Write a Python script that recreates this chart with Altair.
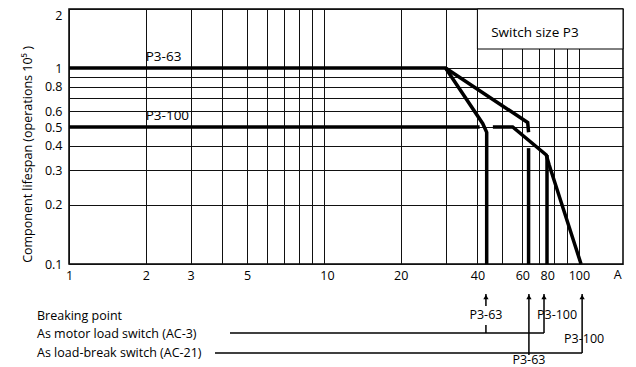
import altair as alt
import pandas as pd

FONT = "Open Sans"

# ---- axis ticks / grid -------------------------------------------------
x_grid = [1, 2, 3, 4, 5, 6, 7, 8, 9, 10, 20, 30, 40, 50, 60, 70, 80, 90, 100]
x_tick_labels = ["1", "2", "3", "5", "10", "20", "40", "60", "80", "100"]
y_grid = [0.1, 0.2, 0.3, 0.4, 0.5, 0.6, 0.7, 0.8, 0.9, 1, 2]
y_tick_labels = ["0.1", "0.2", "0.3", "0.4", "0.5", "0.6", "0.8", "1", "2"]

# ---- curves (current in A, lifespan in 10^5 operations) ----------------
p363_ac3_x = [1, 30, 42, 43.5, 43.5]
p363_ac3_y = [1, 1, 0.52, 0.47, 0.1]
p363_ac21a_x = [30, 63, 63.5]
p363_ac21a_y = [1, 0.527, 0.47]
p363_ac21b_x = [63.5, 63.5]
p363_ac21b_y = [0.39, 0.1]
p3100_a_x = [1, 40.8]
p3100_a_y = [0.5, 0.5]
p3100_b_x = [46, 55, 74.5, 76.5, 102]
p3100_b_y = [0.5, 0.5, 0.36, 0.32, 0.1]
p3100_v_x = [75, 75]
p3100_v_y = [0.36, 0.1]

curve_labels = ["P3-63", "P3-100"]
curve_label_x = [2, 2]
curve_label_y = [1, 0.5]

box_text = "Switch size P3"

# ---- breaking points ---------------------------------------------------
arrow_labels = ["P3-63", "P3-100", "P3-63", "P3-100"]
arrow_x = [43.2, 73, 63.7, 103]
arrow_rows = ["AC-3", "AC-3", "AC-21", "AC-21"]
row_texts = ["Breaking point", "As motor load switch (AC-3)", "As load-break switch (AC-21)"]
y_title = "Component lifespan (operations 10\u2075 )"

# ---- build tables ------------------------------------------------------
segments = [
    ("a", p363_ac3_x, p363_ac3_y),
    ("b", p363_ac21a_x, p363_ac21a_y),
    ("c", p363_ac21b_x, p363_ac21b_y),
    ("d", p3100_a_x, p3100_a_y),
    ("e", p3100_b_x, p3100_b_y),
    ("f", p3100_v_x, p3100_v_y),
]
rows = []
for name, xs_, ys_ in segments:
    for i, (a, b) in enumerate(zip(xs_, ys_)):
        rows.append({"seg": name, "i": i, "A": a, "life": b})
curves = pd.DataFrame(rows)

W, H = 554, 255
xscale = alt.Scale(type="log", domain=[1, 149], nice=False)
yscale = alt.Scale(type="log", domain=[0.1, 2], nice=False)

xlab_list = "[" + ",".join("'%s'" % s for s in x_tick_labels) + "]"
ylab_list = "[" + ",".join("'%s'" % s for s in y_tick_labels) + "]"

X = alt.X(
    "A:Q",
    scale=xscale,
    axis=alt.Axis(
        values=x_grid,
        format="~g",
        labelExpr="indexof(%s, datum.label) >= 0 ? datum.label : ''" % xlab_list,
        grid=True,
        gridColor="#111",
        gridWidth=1,
        domain=False,
        ticks=False,
        labelPadding=5,
        labelFontSize=12.5,
        labelFlush=False,
        labelOverlap=False,
        labelOffset={
            "condition": [
                {"test": "datum.value == 80", "value": -7},
                {"test": "datum.value == 10", "value": 3},
            ],
            "value": 0,
        },
        title=None,
    ),
)
Y = alt.Y(
    "life:Q",
    scale=yscale,
    axis=alt.Axis(
        values=y_grid,
        format="~g",
        labelExpr="indexof(%s, datum.label) >= 0 ? datum.label : ''" % ylab_list,
        grid=True,
        gridColor="#111",
        gridWidth=1,
        domain=False,
        ticks=False,
        labelPadding=7,
        labelFontSize=12.5,
        labelFlush=False,
        labelOverlap=False,
        labelOffset={"condition": {"test": "datum.value == 2", "value": 6}, "value": 0},
        title=y_title,
        titleFontSize=12.5,
        titleFontWeight="normal",
        titleX=-42,
        titleY=145,
        titleAngle=270,
        titleAlign="center",
        titleBaseline="middle",
    ),
)

layers = []

# box in upper right
box_df = pd.DataFrame({"A": [40], "A2": [149], "life": [1.25], "life2": [2]})
layers.append(
    alt.Chart(box_df).mark_rect(fill="white", stroke="black", strokeWidth=1).encode(
        x=X, x2="A2:Q", y=Y, y2="life2:Q"
    )
)
layers.append(
    alt.Chart(pd.DataFrame({"A": [45.3], "life": [1.5], "t": [box_text]}))
    .mark_text(align="left", baseline="middle", fontSize=13.5, font=FONT, color="black")
    .encode(x=X, y=Y, text="t:N")
)

# curves
layers.append(
    alt.Chart(curves).mark_line(color="black", strokeWidth=3.5).encode(
        x=X, y=Y, detail="seg:N", order="i:Q"
    )
)

# curve labels
lab_df = pd.DataFrame({"A": curve_label_x, "life": curve_label_y, "t": curve_labels})
layers.append(
    alt.Chart(lab_df)
    .mark_text(align="left", baseline="middle", dy=-11, fontSize=13.5, font=FONT, color="black")
    .encode(x=X, y=Y, text="t:N")
)

# "A" unit label at the end of the x axis
layers.append(
    alt.Chart(pd.DataFrame({"A": [142], "t": ["A"]}))
    .mark_text(align="center", baseline="middle", fontSize=12.5, font=FONT, color="black")
    .encode(x=X, y=alt.value(266), text="t:N")
)

# ---- breaking point annotations (pixel layout below plot) -------------
row_px = {"AC-3": 324, "AC-21": 344}
row_start_px = {"AC-3": 161, "AC-21": 146}
row_end_x = {"AC-3": arrow_x[1], "AC-21": arrow_x[3]}
text_px = [307, 325, 344]

for t, py in zip(row_texts, text_px):
    layers.append(
        alt.Chart(pd.DataFrame({"t": [t]}))
        .mark_text(align="left", baseline="middle", fontSize=12.5, font=FONT, color="black")
        .encode(x=alt.value(-32), y=alt.value(py), text="t:N")
    )

for r in ["AC-3", "AC-21"]:
    layers.append(
        alt.Chart(pd.DataFrame({"A": [row_end_x[r]]}))
        .mark_rule(color="black", strokeWidth=1.5)
        .encode(x=X, x2=alt.value(row_start_px[r]), y=alt.value(row_px[r]))
    )

shafts = [
    [(285, 297), (316, 324)],
    [(285, 324)],
    [(285, 346)],
    [(285, 344)],
]
label_pos = [
    ("center", 0, 306),
    ("left", -7, 306),
    ("center", 0, 351),
    ("center", 2, 330),
]
for k in range(len(arrow_x)):
    d = pd.DataFrame({"A": [arrow_x[k]], "t": [arrow_labels[k]]})
    for (a, b) in shafts[k]:
        layers.append(
            alt.Chart(d)
            .mark_rule(color="black", strokeWidth=1.5)
            .encode(x=X, y=alt.value(a), y2=alt.value(b))
        )
    layers.append(
        alt.Chart(d)
        .mark_point(shape="triangle-up", filled=True, size=28, color="black", opacity=1)
        .encode(x=X, y=alt.value(288))
    )
    al, dx, py = label_pos[k]
    layers.append(
        alt.Chart(d)
        .mark_text(align=al, dx=dx, baseline="middle", fontSize=12.5, font=FONT, color="black")
        .encode(x=X, y=alt.value(py), text="t:N")
    )

chart = (
    alt.layer(*layers)
    .properties(
        width=W,
        height=H,
        autosize=alt.AutoSizeParams(type="none"),
        padding={"left": 61, "top": 1, "right": 5, "bottom": 112},
    )
    .configure_view(stroke="black", strokeWidth=1.5)
    .configure_axis(labelFont=FONT, titleFont=FONT, labelColor="black", titleColor="black")
)

chart.save("out.html", embed_options={"renderer": "svg", "actions": False})
